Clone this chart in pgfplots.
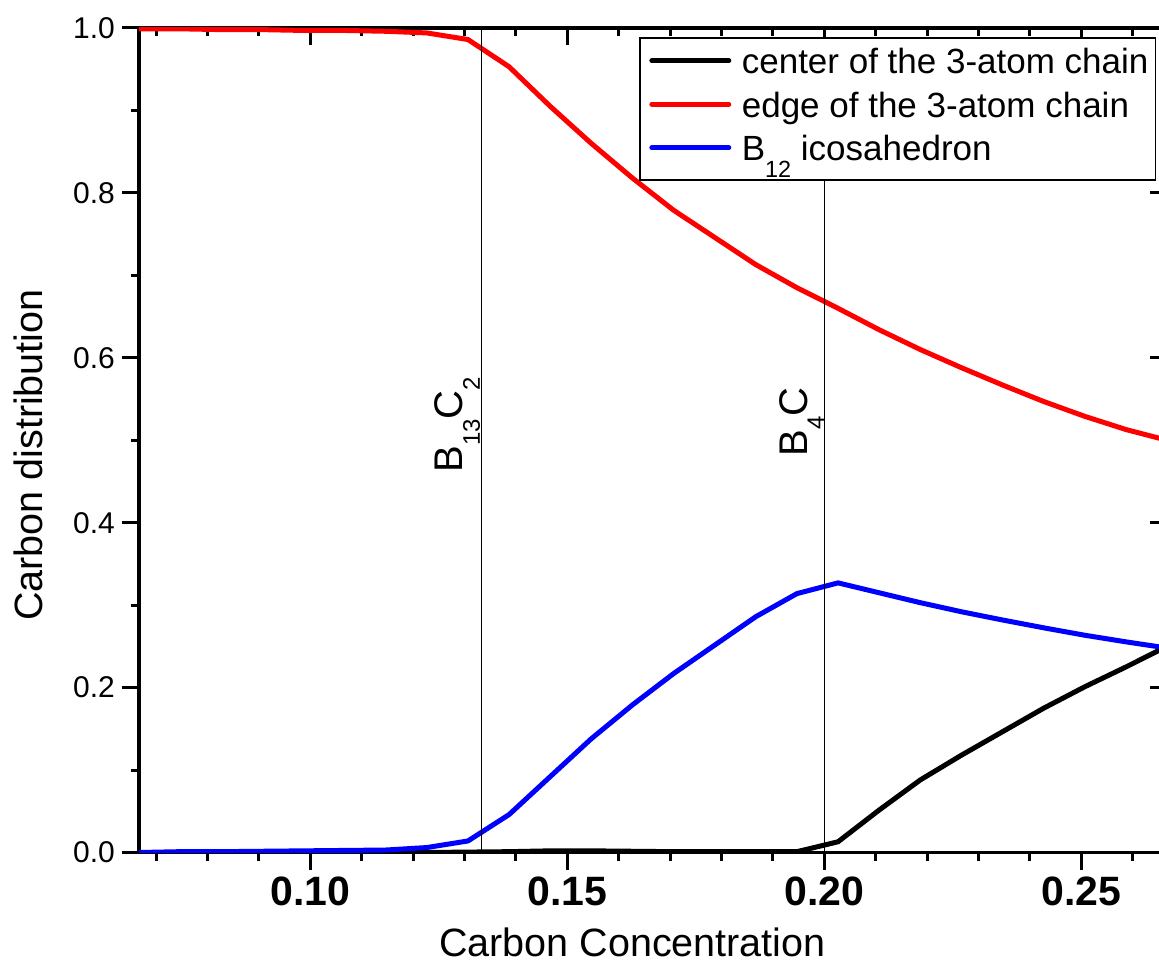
\documentclass[border=0pt]{standalone}
\usepackage{pgfplots}
\pgfplotsset{compat=1.18}
\usepackage{fontspec}
\setmainfont{Liberation Sans}
\pgfplotstableread{
x red blue black
0.066667 0.999 0.000 0.000
0.074667 0.999 0.001 0.000
0.082667 0.998 0.001 0.000
0.090667 0.998 0.0015 0.000
0.098667 0.997 0.002 0.000
0.106667 0.997 0.0025 0.000
0.114667 0.996 0.003 0.000
0.122667 0.994 0.006 0.000
0.130667 0.986 0.014 0.0005
0.138667 0.953 0.046 0.001
0.146667 0.905 0.092 0.002
0.154667 0.860 0.138 0.002
0.162667 0.818 0.179 0.0015
0.170667 0.779 0.217 0.001
0.178667 0.746 0.2515 0.001
0.186667 0.713 0.286 0.001
0.194667 0.685 0.314 0.001
0.202667 0.660 0.327 0.013
0.210667 0.634 0.315 0.0515
0.218667 0.610 0.303 0.088
0.226667 0.588 0.292 0.118
0.234667 0.567 0.282 0.1465
0.242667 0.547 0.2725 0.175
0.250667 0.529 0.2635 0.201
0.258667 0.513 0.2555 0.225
0.266667 0.500 0.248 0.250
}\datatable
\begin{document}
\begin{tikzpicture}
\pgfplotsset{
  common/.style={
    scale only axis, width=514pt, height=412.25pt,
    xmin=0.0666667, xmax=0.2666667, ymin=0, ymax=1,
    xtick={0.10,0.15,0.20,0.25},
    minor xtick={0.07,0.08,0.09,0.11,0.12,0.13,0.14,0.16,0.17,0.18,0.19,0.21,0.22,0.23,0.24,0.26},
    ytick={0,0.2,0.4,0.6,0.8,1.0}, minor ytick={0.1,0.3,0.5,0.7,0.9},
    major tick length=8.5pt, minor tick length=4pt,
    every tick/.style={black, line width=1.5pt},
    axis line style={line width=1.6pt},
  }
}
\begin{axis}[common, tick align=inside, xtick pos=right, ytick pos=right,
  xticklabels={}, yticklabels={}]
\end{axis}
\begin{axis}[common, tick align=outside, xtick pos=left, ytick pos=left,
  xticklabels={0.10,0.15,0.20,0.25},
  yticklabels={0.0,0.2,0.4,0.6,0.8,1.0},
  xticklabel style={font=\fontsize{20.5}{20.5}\selectfont\bfseries},
  yticklabel style={font=\fontsize{15}{15}\selectfont},
  xlabel={Carbon Concentration}, ylabel={Carbon distribution},
  label style={font=\fontsize{19.75}{19.75}\selectfont},
  xlabel style={at={(axis description cs:0.48,-0.1267)}, anchor=base, inner sep=0pt, text depth=0pt},
  ylabel style={at={(axis description cs:-0.0934,0.482)}, anchor=base},
  legend style={at={(axis description cs:0.4864,0.9891)}, anchor=north west,
    draw=black, line width=0.8pt, fill=white, inner xsep=3.5pt, inner ysep=3pt,
    row sep=0pt, column sep=4pt, font=\fontsize{17.5}{17.5}\selectfont,
    cells={anchor=base west},
    nodes={inner xsep=0pt, inner ysep=2.25pt, text height=12.75pt, text depth=4.5pt}},
  legend image code/.code={\draw[#1, line cap=round] (0pt,6.5pt) -- (38.5pt,6.5pt); \path (-1.25pt,6.5pt) (39.75pt,6.5pt);},
  ]
\addplot[black, line width=2.5pt] table[x=x, y=black] {\datatable};
\addlegendentry{center of the 3-atom chain}
\addplot[red, line width=2.5pt] table[x=x, y=red] {\datatable};
\addlegendentry{edge of the 3-atom chain}
\addplot[blue, line width=2.5pt] table[x=x, y=blue] {\datatable};
\addlegendentry{B\raisebox{-8.3pt}{\fontsize{11.7}{11.7}\selectfont 12} icosahedron}
\addplot[black, line width=0.7pt, forget plot] coordinates {(0.133333,0) (0.133333,1)};
\addplot[black, line width=0.7pt, forget plot] coordinates {(0.2,0) (0.2,1)};
\node[rotate=90, anchor=base west, inner sep=0pt, font=\fontsize{20}{20}\selectfont] at (axis cs:0.12970,0.4603) {B\raisebox{-8.5pt}{\fontsize{12}{12}\selectfont 13}C\raisebox{-8.5pt}{\fontsize{12}{12}\selectfont 2}};
\node[rotate=90, anchor=base west, inner sep=0pt, font=\fontsize{20}{20}\selectfont] at (axis cs:0.19663,0.4797) {B\raisebox{-8.5pt}{\fontsize{12}{12}\selectfont 4}C};
\end{axis}
\pgfresetboundingbox
\useasboundingbox (-69.5pt,-54.75pt) rectangle (510pt,426.25pt);
\end{tikzpicture}
\end{document}
